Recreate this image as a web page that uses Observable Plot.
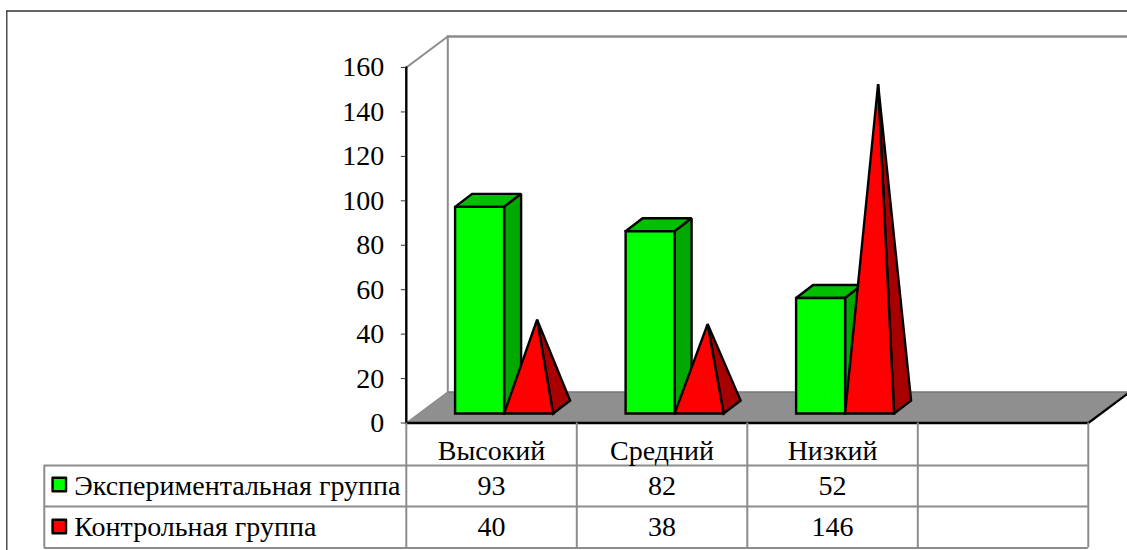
<!DOCTYPE html>
<html><head><meta charset="utf-8">
<style>html,body{margin:0;padding:0;background:#fff;overflow:hidden}svg{display:block}</style>
<script src="https://cdn.jsdelivr.net/npm/d3@7"></script>
<script src="https://cdn.jsdelivr.net/npm/@observablehq/plot@0.6"></script>
</head><body><script>
const categories = ["Высокий","Средний","Низкий"];
const seriesNames = ["Экспериментальная группа","Контрольная группа"];
const experimental = [93,82,52];
const control = [40,38,146];
const yTicks = [0,20,40,60,80,100,120,140,160];

// layout helpers: x in category units, y in value units
const pxCat = 170.5, pxVal = 355.5/160, x0 = 405.8, y0 = 422.5;
const X = p => (p-406.5)/pxCat, Y = p => (y0-p)/pxVal;
const wallX = 41.5/pxCat, wallY = 31/pxVal, xEnd = 4;
const barStart = 48.8/pxCat, barW = 49/pxCat, depX = 17/pxCat, depY = 13/pxVal, lift = 9.5/pxVal, apexLift = 5/pxVal;

const poly = (id, pts) => [...pts, pts[0], pts[1]].map(([x,y]) => ({id, x, y}));
const greenFront=[], greenSide=[], greenTop=[], redFront=[], redSide=[];
categories.forEach((c,i) => {
  const l = i+barStart, r = l+barW, v = experimental[i]+lift;
  greenFront.push(...poly(c,[[l,lift],[r,lift],[r,v],[l,v]]));
  greenSide.push(...poly(c,[[r,lift],[r+depX,lift+depY],[r+depX,v+depY],[r,v]]));
  greenTop.push(...poly(c,[[l,v],[r,v],[r+depX,v+depY],[l+depX,v+depY]]));
  const a = r+(barW+depX)/2, ay = lift+apexLift+control[i], r2 = r+barW;
  redFront.push(...poly(c,[[r,lift],[r2,lift],[a,ay]]));
  redSide.push(...poly(c,[[r2,lift],[r2+depX,lift+depY],[a,ay]]));
});
const floor = poly("f",[[0,0],[xEnd,0],[xEnd+wallX,wallY],[wallX,wallY]]);
const face = (d,fill,limit=2) => Plot.line(d,{x:"x",y:"y",z:"id",fill,stroke:"#000",strokeWidth:2.4,strokeLinejoin:"miter",strokeMiterlimit:limit});
const seg = (x1,y1,x2,y2,stroke,w) => Plot.line([{x:x1,y:y1},{x:x2,y:y2}],{x:"x",y:"y",stroke,strokeWidth:w});

const grey="#8c8c8c";
const rowTop=Y(465), rowMid=Y(506), rowBot=Y(547.5), leftX=X(44.5);
const font="Liberation Serif", fs=28;
const cols=[0,1,2,3].map(i=>i+0.5);
const txt=(d,o)=>Plot.text(d,{fontFamily:font,fontSize:fs,fill:"#000",...o});

const chart = Plot.plot({
  width:1127,height:550,marginLeft:x0,marginRight:1127-x0-4*pxCat,marginTop:67,marginBottom:550-y0,
  style:{fontFamily:font,background:"#fff",overflow:"visible"},
  x:{type:"linear",domain:[0,4],axis:null},
  y:{type:"linear",domain:[0,160],axis:null},
  marks:[
    // outer frame
    seg(X(7),Y(550),X(7),Y(10.5),"#333",1.3),
    seg(X(7),Y(10.5),X(1127),Y(10.5),"#333",1.3),
    // walls
    seg(wallX,wallY,wallX,160+wallY,grey,2),
    seg(wallX,160+wallY,X(1127),160+wallY,grey,2.4),
    seg(0,160,wallX,160+wallY,grey,2),
    // floor
    Plot.line(floor,{x:"x",y:"y",z:"id",fill:"#8f8f8f",stroke:"none"}),
    seg(wallX,wallY,xEnd+wallX,wallY,"#777",1.5),
    seg(0,0,wallX,wallY,grey,1.5),
    seg(0,0,4,0,"#000",2.6),
    seg(4,0,xEnd+wallX,wallY,"#000",2.2),
    seg(0,0,0,160,"#000",2.4),
    // bars
    face(greenTop,"#00c000"),
    face(greenSide,"#00a800"),
    face(greenFront,"#00ff00"),
    face(redSide,"#a80000"),
    face(redFront,"#ff0000"),
    // axis
    Plot.axisY(yTicks,{anchor:"left",tickSize:5,tickPadding:17,fontSize:fs,fontFamily:font,label:null,stroke:"#333",fill:"#000",tickFormat:d=>String(d)}),
    // data table
    Plot.ruleX([0,1,2,3,4],{y1:rowBot,y2:0,stroke:grey,strokeWidth:2}),
    Plot.ruleX([leftX],{y1:rowBot,y2:rowTop,stroke:grey,strokeWidth:2}),
    Plot.ruleY([rowTop,rowMid,rowBot],{x1:leftX,x2:4,stroke:grey,strokeWidth:2}),
    txt(categories,{x:(d,i)=>cols[i],y:Y(451),text:d=>d}),
    txt(experimental,{x:(d,i)=>cols[i],y:Y(486),text:d=>String(d)}),
    txt(control,{x:(d,i)=>cols[i],y:Y(527),text:d=>String(d)}),
    txt(seriesNames,{x:X(74.5),y:(d,i)=>Y([486,527][i]),text:d=>d,textAnchor:"start"}),
    Plot.dot(seriesNames,{x:X(59.5),y:(d,i)=>Y([484,526][i]),symbol:"square",r:7.6,fill:(d,i)=>["#00ff00","#ff0000"][i],stroke:"#000",strokeWidth:2.4,strokeLinejoin:"round"})
  ]
});
document.body.appendChild(chart);
</script></body></html>
